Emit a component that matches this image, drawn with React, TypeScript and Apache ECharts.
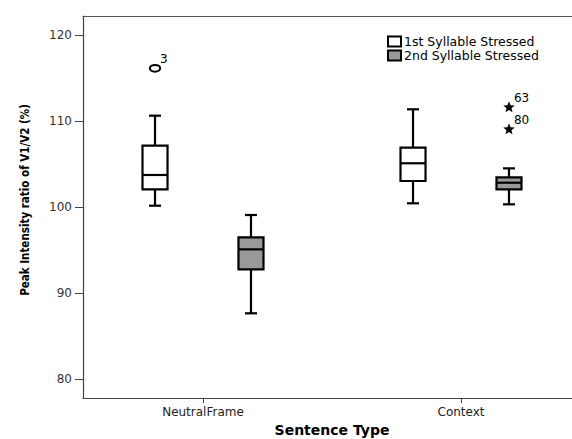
import React, { useEffect, useRef } from "react";
import * as echarts from "echarts";

const CATEGORIES = ["NeutralFrame", "Context"];
const SERIES_NAMES = ["1st Syllable Stressed", "2nd Syllable Stressed"];
// [categoryIndex, low whisker, Q1, median, Q3, high whisker]
const FIRST_STRESSED = [
  [0, 100.17, 102.07, 103.74, 107.14, 110.63],
  [1, 100.45, 103.04, 105.1, 106.91, 111.37],
];
const SECOND_STRESSED = [
  [0, 87.67, 92.78, 95.1, 96.5, 99.09],
  [1, 100.33, 102.07, 102.84, 103.47, 104.51],
];
// [categoryIndex, seriesIndex, value, case label]
const OUTLIERS_MILD = [[0, 0, 116.13, "3"]];
const OUTLIERS_EXTREME = [
  [1, 1, 111.6, "63"],
  [1, 1, 109.04, "80"],
];
const Y_TICKS = [80, 90, 100, 110, 120];

const OFFSET = 0.186;
const BOX_HALF = 0.0485;
const CAP_HALF = 0.0233;
const FILLS = ["#ffffff", "#999999"];
const FONT = "'DejaVu Sans', sans-serif";

function boxRenderer(offset: number, fill: string) {
  return (params: any, api: any) => {
    const x = api.value(0) + offset;
    const low = api.value(1);
    const q1 = api.value(2);
    const med = api.value(3);
    const q3 = api.value(4);
    const high = api.value(5);
    const [cx, yLow] = api.coord([x, low]);
    const yQ1 = api.coord([x, q1])[1];
    const yMed = api.coord([x, med])[1];
    const yQ3 = api.coord([x, q3])[1];
    const yHigh = api.coord([x, high])[1];
    const left = api.coord([x - BOX_HALF, med])[0];
    const right = api.coord([x + BOX_HALF, med])[0];
    const capL = api.coord([x - CAP_HALF, med])[0];
    const capR = api.coord([x + CAP_HALF, med])[0];
    const ls = { stroke: "#000", lineWidth: 2.2 };
    return {
      type: "group",
      children: [
        { type: "line", shape: { x1: cx, y1: yLow, x2: cx, y2: yQ1 }, style: ls },
        { type: "line", shape: { x1: cx, y1: yQ3, x2: cx, y2: yHigh }, style: ls },
        { type: "line", shape: { x1: capL, y1: yLow, x2: capR, y2: yLow }, style: ls },
        { type: "line", shape: { x1: capL, y1: yHigh, x2: capR, y2: yHigh }, style: ls },
        {
          type: "rect",
          shape: { x: left, y: yQ3, width: right - left, height: yQ1 - yQ3 },
          style: { fill, stroke: "#000", lineWidth: 2.2 },
        },
        { type: "line", shape: { x1: left, y1: yMed, x2: right, y2: yMed }, style: ls },
      ],
    };
  };
}

function starPoints(cx: number, cy: number, ro: number, ri: number) {
  const pts: number[][] = [];
  for (let i = 0; i < 10; i++) {
    const r = i % 2 === 0 ? ro : ri;
    const a = -Math.PI / 2 + (i * Math.PI) / 5;
    pts.push([cx + r * Math.cos(a), cy + r * Math.sin(a)]);
  }
  return pts;
}

function outlierRenderer(kind: "circle" | "star") {
  return (params: any, api: any) => {
    const si = api.value(1);
    const x = api.value(0) + (si === 0 ? -OFFSET : OFFSET);
    const [cx, cy] = api.coord([x, api.value(2)]);
    const label = kind === "circle" ? OUTLIERS_MILD[params.dataIndex][3] : OUTLIERS_EXTREME[params.dataIndex][3];
    const mark =
      kind === "circle"
        ? { type: "ellipse", shape: { cx, cy, rx: 5.2, ry: 3.4 }, style: { fill: "none", stroke: "#000", lineWidth: 2 } }
        : { type: "polygon", shape: { points: starPoints(cx, cy, 6, 2.6) }, style: { fill: "#000" } };
    return {
      type: "group",
      children: [
        mark,
        {
          type: "text",
          style: {
            x: cx + 5,
            y: cy - 3,
            text: String(label),
            fill: "#000",
            font: `12px ${FONT}`,
            textVerticalAlign: "bottom",
          },
        },
      ],
    };
  };
}

export default function App() {
  const ref = useRef<HTMLDivElement>(null);
  useEffect(() => {
    document.body.style.margin = "0";
    const chart = echarts.init(ref.current!, null, { renderer: "svg" });
    const xMin = -120 / 258;
    const xMax = 1 + 120 / 258;
    chart.setOption({
      animation: false,
      backgroundColor: "#ffffff",
      grid: { left: 83, top: 16, width: 498, height: 382, outerBoundsMode: "none", containLabel: false },
      legend: {
        orient: "vertical",
        left: 387,
        top: 35,
        padding: 0,
        itemWidth: 13,
        itemHeight: 10,
        itemGap: 1,
        textStyle: { fontFamily: FONT, fontSize: 12.5, color: "#000", padding: [0, 0, 0, -2] },
        data: SERIES_NAMES.map((n, i) => ({
          name: n,
          icon: "rect",
          itemStyle: { color: FILLS[i], borderColor: "#000", borderWidth: 2 },
        })),
      },
      xAxis: [
        {
          type: "value",
          min: xMin,
          max: xMax,
          name: "Sentence Type",
          nameLocation: "middle",
          nameGap: 24,
          nameTextStyle: { fontFamily: FONT, fontSize: 14, fontWeight: "bold", color: "#000" },
          axisLine: { show: true, onZero: false, lineStyle: { color: "#444", width: 1.2 } },
          axisTick: { show: true, length: 5, customValues: [0, 1], lineStyle: { color: "#444" } },
          axisLabel: {
            customValues: [0, 1],
            formatter: (v: number) => CATEGORIES[Math.round(v)],
            fontFamily: FONT,
            fontSize: 12,
            color: "#222",
            margin: 8,
          },
          splitLine: { show: false },
        },
        {
          type: "value",
          position: "top",
          min: xMin,
          max: xMax,
          axisLine: { show: true, onZero: false, lineStyle: { color: "#555", width: 1.2 } },
          axisTick: { show: false },
          axisLabel: { show: false },
          splitLine: { show: false },
        },
      ],
      yAxis: {
        type: "value",
        min: 77.83,
        max: 122.21,
        name: "Peak Intensity ratio of V1/V2 (%)",
        nameLocation: "middle",
        nameGap: 52,
        nameRotate: 90,
        nameTextStyle: {
          fontFamily: "'Liberation Sans Narrow', 'DejaVu Sans Condensed', sans-serif",
          fontSize: 11.5,
          fontWeight: "bold",
          color: "#000",
          padding: [0, 0, 0, 14],
        },
        axisLine: { show: true, onZero: false, lineStyle: { color: "#444", width: 1.2 } },
        axisTick: { show: true, length: 8, customValues: Y_TICKS, lineStyle: { color: "#444" } },
        axisLabel: { customValues: Y_TICKS, fontFamily: FONT, fontSize: 12, color: "#333", margin: 11 },
        splitLine: { show: false },
      },
      series: [
        {
          type: "custom",
          name: SERIES_NAMES[0],
          renderItem: boxRenderer(-OFFSET, FILLS[0]),
          itemStyle: { color: FILLS[0], borderColor: "#000" },
          encode: { x: 0, y: [1, 2, 3, 4, 5] },
          data: FIRST_STRESSED,
        },
        {
          type: "custom",
          name: SERIES_NAMES[1],
          renderItem: boxRenderer(OFFSET, FILLS[1]),
          itemStyle: { color: FILLS[1], borderColor: "#000" },
          encode: { x: 0, y: [1, 2, 3, 4, 5] },
          data: SECOND_STRESSED,
        },
        {
          type: "custom",
          name: "mild outliers",
          renderItem: outlierRenderer("circle"),
          encode: { x: 0, y: 2 },
          data: OUTLIERS_MILD.map((d) => [d[0], d[1], d[2]]),
        },
        {
          type: "custom",
          name: "extreme outliers",
          renderItem: outlierRenderer("star"),
          encode: { x: 0, y: 2 },
          data: OUTLIERS_EXTREME.map((d) => [d[0], d[1], d[2]]),
        },
      ],
    });
    return () => chart.dispose();
  }, []);
  return <div ref={ref} style={{ width: 572, height: 439 }} />;
}
